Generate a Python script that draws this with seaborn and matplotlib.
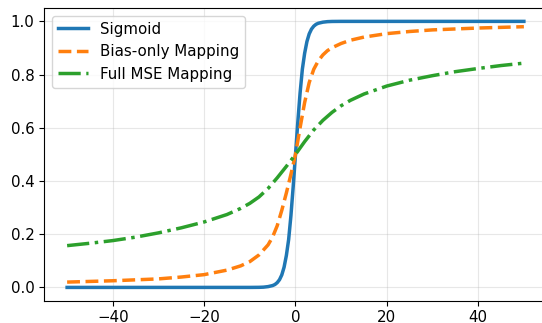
import matplotlib
matplotlib.use("Agg")
import matplotlib.pyplot as plt
import seaborn as sns
import pandas as pd

# values
sig_x = [-50, -10, -8, -7, -6, -5, -4.5, -4, -3.5, -3, -2.5, -2, -1.5, -1, -0.5, 0,
         0.5, 1, 1.5, 2, 2.5, 3, 3.5, 4, 4.5, 5, 6, 7, 8, 10, 50]
sig_y = [0.0, 0.0, 0.0003, 0.001, 0.003, 0.007, 0.011, 0.018, 0.029, 0.047, 0.076, 0.12, 0.18, 0.27, 0.38, 0.5,
         0.62, 0.73, 0.82, 0.88, 0.924, 0.953, 0.971, 0.982, 0.989, 0.993, 0.997, 0.999, 0.9997, 1.0, 1.0]

bias_x = [-50, -40, -30, -25, -20, -15, -12, -10, -8, -6, -5, -4, -3, -2, -1, 0,
          1, 2, 3, 4, 5, 6, 7, 8, 10, 12, 15, 20, 25, 30, 40, 50]
bias_y = [0.020, 0.025, 0.032, 0.039, 0.048, 0.065, 0.081, 0.097, 0.122, 0.160, 0.190, 0.232, 0.290, 0.355, 0.425, 0.50,
          0.60, 0.695, 0.77, 0.82, 0.852, 0.874, 0.89, 0.901, 0.917, 0.929, 0.941, 0.954, 0.962, 0.968, 0.975, 0.980]

mse_x = [-50, -45, -40, -35, -30, -25, -20, -15, -12, -10, -8, -6, -4, -2, 0,
         2, 4, 6, 8, 10, 12, 15, 20, 25, 30, 35, 40, 45, 50]
mse_y = [0.157, 0.166, 0.176, 0.189, 0.205, 0.224, 0.246, 0.274, 0.297, 0.316, 0.340, 0.372, 0.412, 0.455, 0.50,
         0.548, 0.592, 0.628, 0.658, 0.683, 0.703, 0.727, 0.757, 0.779, 0.796, 0.811, 0.823, 0.834, 0.843]

df_sig = pd.DataFrame({"x": sig_x, "y": sig_y})
df_bias = pd.DataFrame({"x": bias_x, "y": bias_y})
df_mse = pd.DataFrame({"x": mse_x, "y": mse_y})

plt.rcParams["font.size"] = 10.8

fig = plt.figure(figsize=(5.42, 3.23), dpi=100)
ax = fig.add_axes([0.0817, 0.069, 0.927, 0.906])

sns.lineplot(data=df_sig, x="x", y="y", ax=ax, color="#1f77b4", linewidth=2.5, label="Sigmoid")
sns.lineplot(data=df_bias, x="x", y="y", ax=ax, color="#ff7f0e", linewidth=2.5, linestyle="--",
             label="Bias-only Mapping")
sns.lineplot(data=df_mse, x="x", y="y", ax=ax, color="#2ca02c", linewidth=2.5, linestyle="-.",
             label="Full MSE Mapping")

ax.set_xlabel("")
ax.set_ylabel("")
ax.tick_params(labelsize=10.8)
ax.grid(True, alpha=0.3)
ax.legend(loc="upper left", fontsize=10.8)

fig.savefig("out.png", dpi=100)
